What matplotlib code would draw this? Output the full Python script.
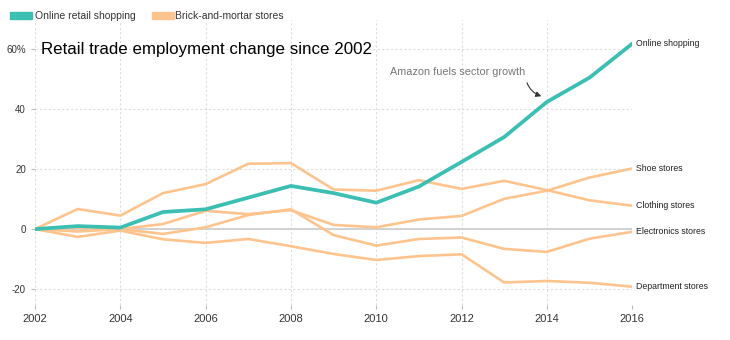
import matplotlib.pyplot as plt
import numpy as np

plt.rcParams['font.family'] = ['Liberation Sans', 'DejaVu Sans']

years = list(range(2002, 2017))

online = [0, 1, 0.5, 5.7, 6.6, 10.5, 14.4, 12, 8.8, 14.2, 22.4, 30.7, 42.4, 50.5, 61.8]
clothing = [0, 6.7, 4.5, 12, 15, 21.8, 22, 13.2, 12.8, 16.3, 13.4, 16.1, 13, 9.6, 7.8]
shoe = [0, 0.5, 0, 1.7, 6.1, 5, 6.3, 1.4, 0.6, 3.2, 4.4, 10.1, 12.8, 17.2, 20.2]
electronics = [0, -0.8, 0, -1.6, 0.6, 4.7, 6.6, -2, -5.5, -3.3, -2.8, -6.6, -7.6, -3.2, -0.9]
department = [0, -2.6, -0.5, -3.4, -4.6, -3.3, -5.7, -8.3, -10.3, -9, -8.4, -17.8, -17.3, -17.9, -19.2]

tiendas = {
    'Shoe stores': shoe,
    'Clothing stores': clothing,
    'Electronics stores': electronics,
    'Department stores': department,
}

verde = '#3BBFB2'
naranja = '#FFC48E'

fig = plt.figure(figsize=(7.3, 3.4), dpi=100)
ax = fig.add_axes([0.048, 0.103, 0.818, 0.838])

ax.axhline(0, color='#cccccc', lw=1.2, zorder=1)
for nombre, vals in tiendas.items():
    ax.plot(years, vals, color=naranja, lw=1.9, zorder=2)
ax.plot(years, online, color=verde, lw=2.7, zorder=3)

# etiquetas al final de cada linea
ax.text(2016.1, online[-1], 'Online shopping', fontsize=6.3, va='center', color='#222222')
for nombre, vals in tiendas.items():
    ax.text(2016.1, vals[-1], nombre, fontsize=6.3, va='center', color='#222222')

ax.set_xlim(2002, 2016)
ax.set_ylim(-25.3, 69.7)
ax.set_xticks(range(2002, 2017, 2))
ax.set_yticks([-20, 0, 20, 40, 60])
ax.set_yticklabels(['-20', '0', '20', '40', '60%'])
ax.grid(True, color='#dddddd', linestyle=(0, (2, 2)), lw=0.8)
ax.set_axisbelow(True)
for s in ax.spines.values():
    s.set_visible(False)
ax.tick_params(axis='both', colors='#bbbbbb', labelcolor='#333333', labelsize=8, length=3)
ax.tick_params(axis='y', labelsize=7)

ax.text(2002.15, 60, 'Retail trade employment change since 2002', fontsize=12.2,
        color='#000000', va='center')

ax.annotate('Amazon fuels sector growth', xy=(2013.87, 44.3), xytext=(2010.33, 52.3),
            fontsize=7.8, color='#777777', va='center', ha='left',
            arrowprops=dict(arrowstyle='-|>', color='#333333', lw=0.8, relpos=(1.0, 0.4),
                            connectionstyle='arc3,rad=0.35', shrinkA=2, shrinkB=0))

# leyenda arriba
fig.patches.append(plt.Rectangle((0.014, 0.944), 0.03, 0.021, transform=fig.transFigure,
                                 color=verde, figure=fig))
fig.text(0.048, 0.954, 'Online retail shopping', fontsize=7.5, va='center', color='#333333')
fig.patches.append(plt.Rectangle((0.208, 0.944), 0.03, 0.021, transform=fig.transFigure,
                                 color=naranja, figure=fig))
fig.text(0.24, 0.954, 'Brick-and-mortar stores', fontsize=7.5, va='center', color='#333333')

fig.savefig('out.png', dpi=100)
